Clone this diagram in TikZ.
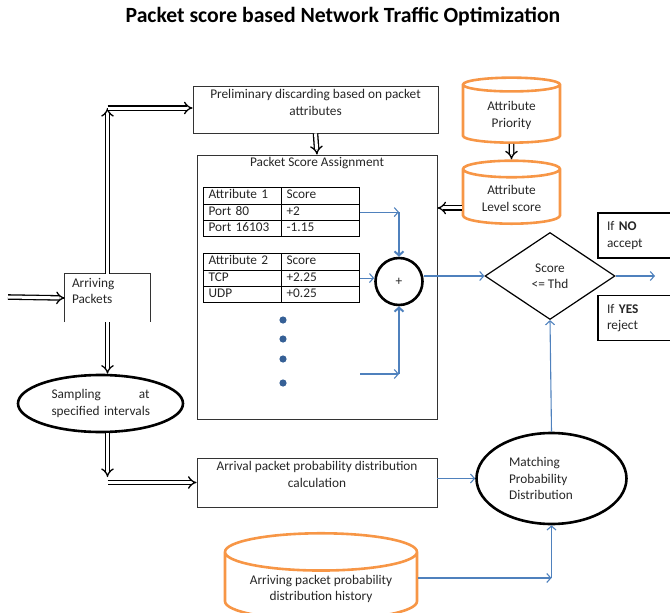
\documentclass[tikz,border=0pt]{standalone}
\usepackage{fontspec}
\setmainfont{Carlito}
\usetikzlibrary{arrows.meta,positioning,shapes.geometric,matrix}
\definecolor{flowblue}{RGB}{79,129,189}
\definecolor{dotblue}{RGB}{54,96,150}
\definecolor{dborange}{RGB}{247,150,70}
\tikzset{
  txt/.style={font=\fontsize{13.3}{16.3}\selectfont, text=black!85},
  box/.style={draw=black!80, line width=0.9pt, inner sep=0pt},
  boxtext/.style={txt, align=center, inner sep=0pt},
  db/.style={txt, cylinder, shape border rotate=90, aspect=0.25, draw=dborange, line width=2.6pt, align=center},
  dbl/.style={double, double distance=3pt, line width=1.3pt, -{Implies}},
  flow/.style={draw=flowblue, line width=1.1pt, -{Straight Barb[length=4pt,width=9pt]}},
  thickflow/.style={flow, line width=2pt},
  ring/.style={draw, line width=2.6pt},
  cell/.style={txt, draw, line width=0.8pt, text width=68pt, inner xsep=5pt, inner ysep=0pt,
    minimum height=16.3pt, text height=9pt, text depth=3pt, align=left},
}
\begin{document}
\begin{tikzpicture}[x=1pt,y=-1pt]
\useasboundingbox (0,0) rectangle (670,613);
\node[font=\fontsize{21.7}{24}\selectfont\bfseries] (title) at (343,17) {Packet score based Network Traffic Optimization};

% boxes
\node[box, minimum width=245pt, minimum height=47pt] (pre) at (315.5,109.5) {};
\node[boxtext, below=4pt of pre.north] (pretxt) {Preliminary discarding based on packet\\attributes};
\node[box, minimum width=240pt, minimum height=264pt] (psa) at (317,287) {};
\node[boxtext, below=3pt of psa.north] (psatxt) {Packet Score Assignment};
\node[box, minimum width=240pt, minimum height=49pt] (calc) at (317,482.5) {};
\node[boxtext, below=4pt of calc.north] (calctxt) {Arrival packet probability distribution\\calculation};
\node[minimum width=85pt, minimum height=48pt, inner sep=0pt] (arrv) at (107.5,298) {};
\draw[box] (arrv.south west) |- (arrv.north east) -- (arrv.south east);
\node[txt, align=left, inner sep=0pt, below right=4pt and 7pt of arrv.north west] (arrvtxt) {Arriving\\Packets};

% score tables
\matrix[matrix of nodes, ampersand replacement=\&, anchor=north west, inner sep=0pt,
  column sep=-0.8pt, row sep=-0.8pt, nodes={cell}] (tab1) at (203,187) {
  Attribute 1 \& Score \\
  Port 80 \& +2 \\
  Port 16103 \& -1.15 \\
};
\matrix[matrix of nodes, ampersand replacement=\&, anchor=north west, inner sep=0pt,
  column sep=-0.8pt, row sep=-0.8pt, nodes={cell}] (tab2) at (203,253) {
  Attribute 2 \& Score \\
  TCP \& +2.25 \\
  UDP \& +0.25 \\
};
\foreach \y in {320,339,359,383}
  \fill[dotblue] (283,\y) circle (3.6pt);

% databases
\node[db, minimum width=97pt, minimum height=65pt] (prio) at (511.5,115.5) {Attribute\\Priority};
\node[db, minimum width=97pt, minimum height=63pt] (lvl) at (511.5,198.5) {Attribute\\Level score};
\node[db, minimum width=192pt, minimum height=82pt] (hist) at (321,589) {Arriving packet probability\\distribution history};

% decisions
\node[txt, circle, ring, minimum size=47pt, inner sep=0pt] (plus) at (399,281.5) {+};
\node[txt, diamond, draw, line width=1.2pt, minimum width=130pt, minimum height=87pt, inner sep=0pt, align=center] (dia) at (550,276) {Score\\<= Thd};
\node[txt, draw=black, line width=1.3pt, text width=72pt, inner xsep=9pt, minimum height=45pt, align=left] (no) at (643,235.5) {If \textbf{NO}\\accept};
\node[txt, draw=black, line width=1.3pt, text width=72pt, inner xsep=9pt, minimum height=45pt, align=left] (yes) at (643,318) {If \textbf{YES}\\reject};
\node[txt, ellipse, ring, minimum width=165pt, minimum height=57pt, inner sep=0pt, text width=98pt, align=left] (samp) at (100.5,403.5) {Sampling\hfill at\\\mbox{specified intervals}};
\node[txt, ellipse, ring, minimum width=150pt, minimum height=91pt, inner sep=0pt, align=left] (match) at (551.5,478.5) {Matching\\Probability\\Distribution\hspace*{21pt}};

% double arrows
\coordinate (in) at (8,297);
\coordinate (bend1) at (107.5,108);
\coordinate (bend2) at (107.5,477);
\draw[dbl] (in) -- (arrv.west);
\draw[dbl] (arrv.north) -- (bend1);
\draw[dbl] (bend1) -- (bend1 -| pre.west);
\draw[dbl] (pre.south) -- (psa.north);
\draw[dbl] (arrv.south) -- (arrv.south |- samp.north);
\draw[dbl] (arrv.south |- samp.south) -- (bend2);
\draw[dbl] (bend2 |- calc.west) -- (calc.west);
\draw[dbl] (prio.south) -- (lvl.north);
\draw[dbl] ([yshift=-9.5pt]lvl.west) -- ([yshift=-9.5pt]lvl.west -| psa.east);

% score flow
\coordinate (j1) at (plus.north |- tab1-2-2.east);
\coordinate (more) at (360,374);
\coordinate (j3) at (plus.south |- more);
\coordinate (out) at (655,276);
\coordinate (hout) at ([yshift=11pt]hist.east);
\coordinate (j4) at (match.south |- hout);
\draw[flow] (tab1-2-2.east) -- (j1);
\draw[thickflow] (j1) -- (plus.north);
\draw[flow] (tab2-2-2.east) -- (tab2-2-2.east -| plus.west);
\draw[flow] (more) -- (j3);
\draw[thickflow] (j3) -- (plus.south);
\draw[flow] (dia.west -| plus.east) -- (dia.west);
\draw[flow] (dia.east) -- (out);
\draw[flow] (match.north) -- (dia.south);
\draw[flow] (match.west -| calc.east) -- (match.west);
\draw[flow] (hout) -- (j4);
\draw[flow] (j4) -- (match.south);
\end{tikzpicture}
\end{document}
